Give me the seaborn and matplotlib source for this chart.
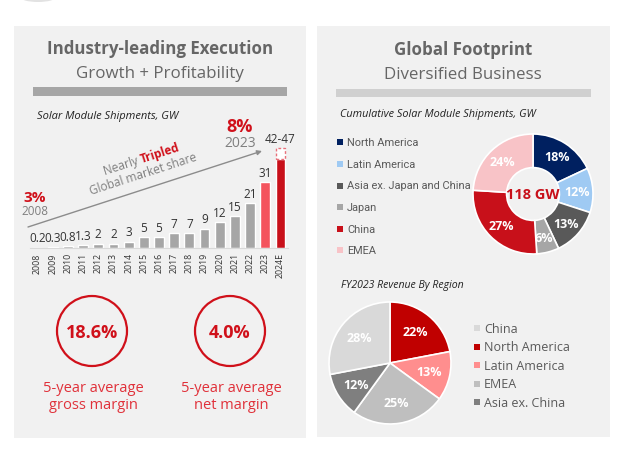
import matplotlib
matplotlib.use("Agg")
import matplotlib.pyplot as plt
import seaborn as sns
import pandas as pd
from matplotlib.patches import Rectangle, Circle, Ellipse

# ---------------- data ----------------
years = ["2008", "2009", "2010", "2011", "2012", "2013", "2014", "2015", "2016",
         "2017", "2018", "2019", "2020", "2021", "2022", "2023", "2024E"]
shipments = [0.2, 0.3, 0.8, 1.3, 2, 2, 3, 5, 5, 7, 7, 9, 12, 15, 21, 31, 42]
ship_labels = ["0.2", "0.3", "0.8", "1.3", "2", "2", "3", "5", "5", "7", "7", "9",
               "12", "15", "21", "31", "42-47"]
est_low, est_high = 42, 47

cum_regions = ["North America", "Latin America", "Asia ex. Japan and China",
               "Japan", "China", "EMEA"]
cum_share = [18, 12, 13, 6, 27, 24]
cum_total = "118 GW"

rev_regions = ["North America", "Latin America", "EMEA", "Asia ex. China", "China"]
rev_share = [22, 13, 25, 12, 28]
rev_legend_order = ["China", "North America", "Latin America", "EMEA", "Asia ex. China"]

margins = ["18.6%", "4.0%"]
margin_labels = ["5-year average\ngross margin", "5-year average\nnet margin"]

# ---------------- style ----------------
sns.set_theme(style="white")
plt.rcParams["font.family"] = ["Open Sans", "DejaVu Sans"]

W, H = 620, 456
fig = plt.figure(figsize=(W / 100, H / 100), dpi=100)
fig.patch.set_facecolor("white")


def px_axes(x0, y0, x1, y1, **kw):
    return fig.add_axes([x0 / W, 1 - y1 / H, (x1 - x0) / W, (y1 - y0) / H], **kw)


bg = px_axes(0, 0, W, H)
bg.set_xlim(0, W)
bg.set_ylim(H, 0)
bg.axis("off")

PANEL = "#f1f1f1"
bg.add_patch(Rectangle((14, 27), 292, 412, color=PANEL, lw=0))
bg.add_patch(Rectangle((317, 27), 293, 411, color=PANEL, lw=0))
bg.add_patch(Ellipse((38, -2), 36, 10, color="#e2e2e2", lw=0))

TITLE = "#666666"
RED = "#d0101a"
# left headings
bg.text(160, 49, "Industry-leading Execution", ha="center", va="center",
        fontsize=12.2, fontweight="bold", color=TITLE)
bg.text(160, 74, "Growth + Profitability", ha="center", va="center",
        fontsize=12.2, color=TITLE)
bg.add_patch(Rectangle((33, 88), 254, 9, color="#a6a6a6", lw=0))
bg.text(37, 117, "Solar Module Shipments, GW", ha="left", va="center",
        fontsize=8, style="italic", color="#222222")

# right headings
bg.text(463, 50, "Global Footprint", ha="center", va="center",
        fontsize=12.2, fontweight="bold", color=TITLE)
bg.text(463, 75, "Diversified Business", ha="center", va="center",
        fontsize=12.2, color=TITLE)
bg.add_patch(Rectangle((336, 90), 255, 8, color="#d0d0d0", lw=0))
bg.text(340, 115, "Cumulative Solar Module Shipments, GW", ha="left", va="center",
        fontsize=7.8, style="italic", color="#222222")
bg.text(341, 286, "FY2023 Revenue By Region", ha="left", va="center",
        fontsize=7.6, style="italic", color="#222222")

# ---------------- bar chart ----------------
ax = px_axes(30, 132, 288, 249)
ax.patch.set_alpha(0)
bar_colors = ["#a6a6a6"] * 15 + ["#f4545e", "#c8101a"]
df = pd.DataFrame({"year": years, "gw": shipments})
sns.barplot(data=df, x="year", y="gw", hue="year", palette=bar_colors,
            legend=False, width=0.64, ax=ax, saturation=1)
ax.bar([len(years) - 1], [est_high - est_low], bottom=[est_low], width=0.64,
       facecolor="white", edgecolor="#e8707a", linestyle=(0, (2, 1.5)), lw=1.0)
ax.set_xlim(-0.5, len(years) - 0.5)
ax.set_ylim(0, 55)
for i, (v, lab) in enumerate(zip(shipments, ship_labels)):
    top = est_high if i == len(years) - 1 else v
    ax.annotate(lab, (i, top), xytext=(0, 2.5), textcoords="offset points",
                ha="center", va="bottom", fontsize=8.5, color="#333333")
ax.set_xlabel("")
ax.set_ylabel("")
ax.set_yticks([])
ax.tick_params(axis="x", labelrotation=90, labelsize=6.3, colors="#333333",
               length=0, pad=3)
for s in ["top", "right", "left"]:
    ax.spines[s].set_visible(False)
ax.spines["bottom"].set_color("#d9d9d9")
ax.spines["bottom"].set_linewidth(0.8)

# arrow + annotations
bg.annotate("", xy=(262, 152), xytext=(28, 228),
            arrowprops=dict(arrowstyle="-|>", color="#8c8c8c", lw=1.0,
                            mutation_scale=7, shrinkA=0, shrinkB=0))
bg.text(141, 160, "Nearly ", rotation=18, ha="right", va="center",
        fontsize=8.5, color="#7f7f7f", rotation_mode="anchor")
bg.text(141, 160, "Tripled", rotation=18, ha="left", va="center",
        fontsize=8.5, fontweight="bold", color=RED, rotation_mode="anchor")
bg.text(143, 174, "Global market share", rotation=18, ha="center", va="center",
        fontsize=8.5, color="#7f7f7f", rotation_mode="anchor")
bg.text(35, 198, "3%", ha="center", va="center", fontsize=11,
        fontweight="bold", color=RED)
bg.text(35, 212, "2008", ha="center", va="center", fontsize=8.5, color="#7f7f7f")
bg.text(240, 127, "8%", ha="center", va="center", fontsize=13,
        fontweight="bold", color=RED)
bg.text(240, 144, "2023", ha="center", va="center", fontsize=10, color="#7f7f7f")

# margin circles
for cx, val, lab in zip([92, 230], margins, margin_labels):
    bg.add_patch(Circle((cx, 332), 35, facecolor="none", edgecolor=RED, lw=1.6))
    bg.text(cx, 333, val, ha="center", va="center", fontsize=13,
            fontweight="bold", color=RED)
    bg.text(cx + 1, 397, lab, ha="center", va="center", fontsize=10.5,
            color="#e0313a", linespacing=1.15)

# ---------------- donut ----------------
dax = px_axes(473, 135, 593, 255)
cum_colors = ["#002060", "#9fcaf3", "#595959", "#a6a6a6", "#c8101a", "#f8c3c7"]
dax.pie(
    cum_share, colors=cum_colors, startangle=90, counterclock=False, radius=1,
    autopct=lambda p: f"{p:.0f}%", pctdistance=0.74,
    wedgeprops=dict(width=0.56, edgecolor="white", linewidth=1.2),
    textprops=dict(color="white", fontsize=9, fontweight="bold"))
dax.set_xlim(-1, 1)
dax.set_ylim(-1, 1)
dax.set_aspect("equal")
dax.axis("off")
dax.text(0, 0, cum_total, ha="center", va="center", fontsize=10.5,
         fontweight="bold", color="#c8101a")

for k, (name, col) in enumerate(zip(cum_regions, cum_colors)):
    y = 143.3 + k * 21.6
    bg.scatter([339.5], [y], marker="s", s=14, color=col, lw=0)
    bg.text(347, y, name, ha="left", va="center", fontsize=7.9,
            color="#595959", family=["Roboto", "DejaVu Sans"])

# ---------------- revenue pie ----------------
pax = px_axes(329, 303, 451, 425)
rev_col_map = {"North America": "#c00000", "Latin America": "#ff8e8e",
               "EMEA": "#bfbfbf", "Asia ex. China": "#7f7f7f", "China": "#d9d9d9"}
rev_colors = [rev_col_map[r] for r in rev_regions]
pax.pie(rev_share, colors=rev_colors, startangle=90, counterclock=False,
        radius=1, autopct=lambda p: f"{p:.0f}%", pctdistance=0.66,
        wedgeprops=dict(edgecolor="white", linewidth=1.2),
        textprops=dict(color="white", fontsize=9, fontweight="bold"))
pax.set_xlim(-1, 1)
pax.set_ylim(-1, 1)
pax.set_aspect("equal")
pax.axis("off")

for k, name in enumerate(rev_legend_order):
    y = 329.3 + k * 18.5
    bg.scatter([477], [y], marker="s", s=16, color=rev_col_map[name], lw=0)
    bg.text(484, y, name, ha="left", va="center", fontsize=9, color="#595959")

fig.savefig("out.png", dpi=100)
